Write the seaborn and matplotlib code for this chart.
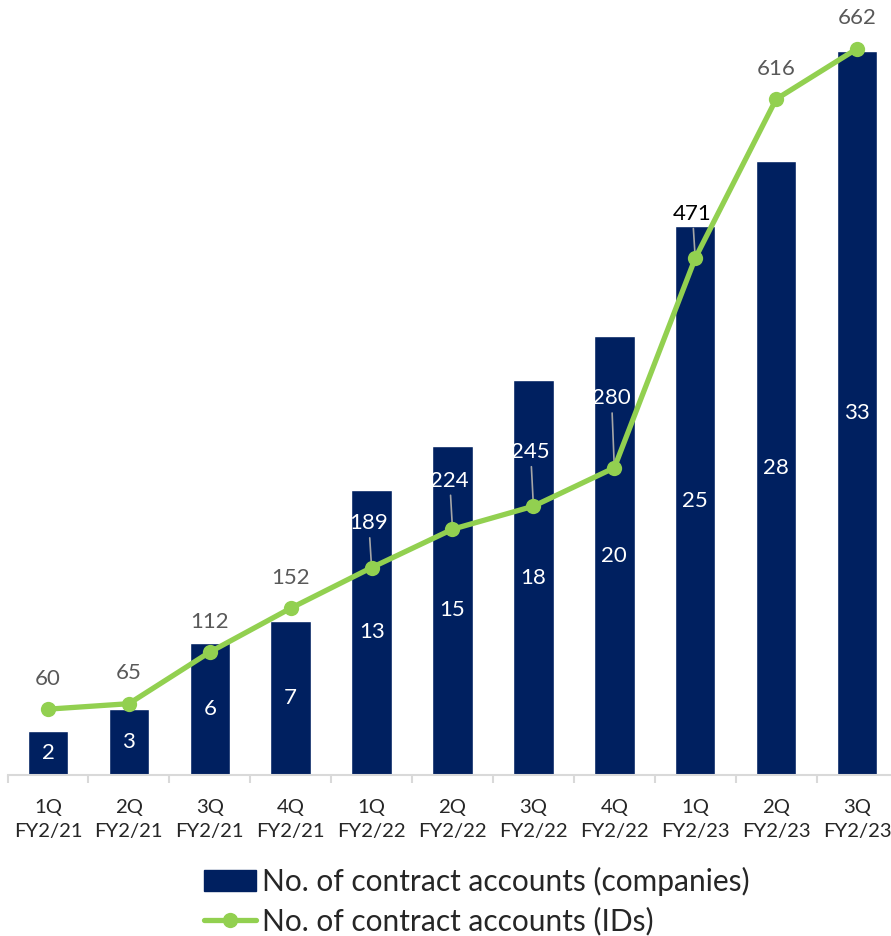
import matplotlib
matplotlib.use("Agg")
import matplotlib.pyplot as plt
import seaborn as sns
import numpy as np
import pandas as pd
from matplotlib.patches import Patch
from matplotlib.lines import Line2D

quarters = ["1Q\nFY2/21", "2Q\nFY2/21", "3Q\nFY2/21", "4Q\nFY2/21",
            "1Q\nFY2/22", "2Q\nFY2/22", "3Q\nFY2/22", "4Q\nFY2/22",
            "1Q\nFY2/23", "2Q\nFY2/23", "3Q\nFY2/23"]
companies = [2, 3, 6, 7, 13, 15, 18, 20, 25, 28, 33]
ids = [60, 65, 112, 152, 189, 224, 245, 280, 471, 616, 662]
legend_labels = ["No. of contract accounts (companies)", "No. of contract accounts (IDs)"]

sns.set_theme(style="white")
plt.rcParams['font.family'] = ['Lato', 'DejaVu Sans']

NAVY = "#002060"
GREEN = "#92D050"
GRAY_TXT = "#595959"

idx = np.arange(len(quarters))
df = pd.DataFrame({"q": idx, "companies": companies, "ids": ids})

fig = plt.figure(figsize=(8.91, 9.36), dpi=100)
ax = fig.add_axes([7.5 / 891, 161 / 936, 890 / 891, 768 / 936])

sns.barplot(data=df, x="q", y="companies", ax=ax, color=NAVY, width=0.5,
            saturation=1, order=list(idx))
ax.set_ylim(0, 35)
ax.set_xlim(-0.5, len(quarters) - 0.5)

ax2 = ax.twinx()
sns.lineplot(data=df, x="q", y="ids", ax=ax2, color=GREEN, lw=3.8,
             marker="o", markersize=11, markeredgewidth=0)
ax2.set_ylim(0, 700)
ax2.set_xlim(-0.5, len(quarters) - 0.5)

for a in (ax, ax2):
    for s in ["top", "left", "right"]:
        a.spines[s].set_visible(False)
    a.set_ylabel("")
    a.set_xlabel("")
    a.set_yticks([])
ax2.spines["bottom"].set_visible(False)
ax.spines["bottom"].set_color("#D9D9D9")
ax.spines["bottom"].set_linewidth(1.5)

ax.set_xticks(idx)
ax.set_xticklabels(quarters, fontsize=14.6, color="#262626", linespacing=1.55)
ax.set_xticks(np.arange(-0.5, len(quarters), 1.0), minor=True)
ax.tick_params(axis="x", which="major", length=0, pad=17)
ax.tick_params(axis="x", which="minor", length=6, width=1.5, color="#D9D9D9",
               direction="out", bottom=True)
ax2.tick_params(axis="x", which="both", length=0, labelbottom=False)

# bar labels (white, centred)
for i, v in enumerate(companies):
    ax.text(i, v / 2, str(v), ha="center", va="center", color="white", fontsize=16)

# line labels
leader = {4: 32, 5: 35, 6: 39, 7: 50, 8: 32}
for i, v in enumerate(ids):
    if i in leader:
        col = "black" if i == 8 else "white"
        ax2.annotate(str(v), xy=(i, v), xytext=(-2, leader[i]), textcoords="offset points",
                     ha="center", va="center", color=col, fontsize=16, zorder=1,
                     arrowprops=dict(arrowstyle="-", color="#A6A6A6", lw=1.2,
                                     shrinkA=1, shrinkB=0))
    else:
        ax2.annotate(str(v), xy=(i, v), xytext=(0, 22), textcoords="offset points",
                     ha="center", va="center", color=GRAY_TXT, fontsize=16)

handles = [Patch(facecolor=NAVY, edgecolor=NAVY),
           Line2D([], [], color=GREEN, lw=3.8, marker="o", markersize=11, markeredgewidth=0)]
fig.legend(handles, legend_labels, loc="center", bbox_to_anchor=(0.535, 0.0375),
           frameon=False, fontsize=21.5, handlelength=1.75, handletextpad=0.2,
           labelspacing=0.37, borderpad=0)

fig.savefig("out.png", dpi=100)
